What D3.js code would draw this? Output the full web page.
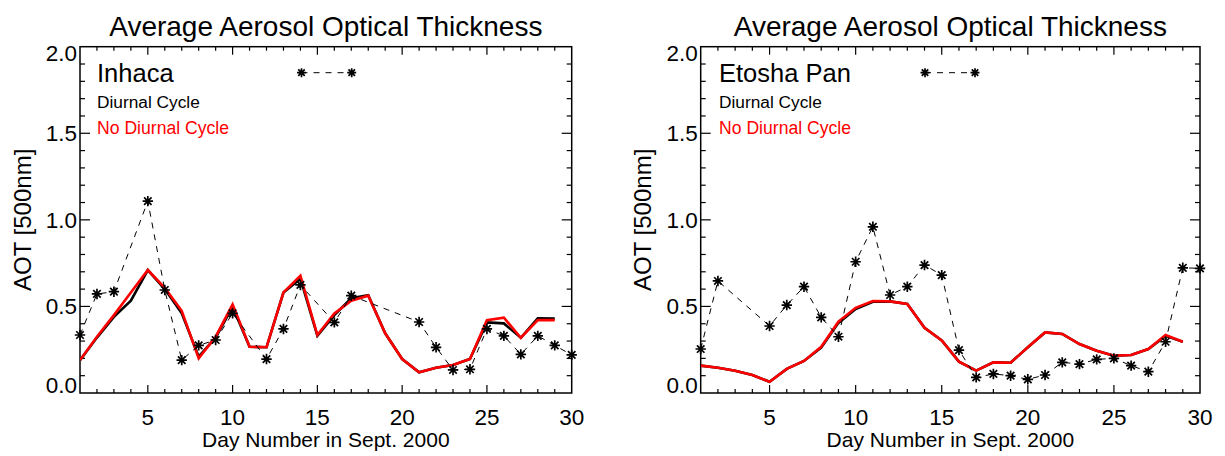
<!DOCTYPE html>
<html><head><meta charset="utf-8">
<script src="https://cdn.jsdelivr.net/npm/d3@7"></script>
<style>html,body{margin:0;padding:0;background:#fff;} svg{display:block;font-family:"Liberation Sans",Arial,sans-serif;}</style>
</head><body>
<svg id="chart" width="1225" height="456"></svg>
<script>
// ---- data ----
const days = d3.range(1, 31);
const lineDays = d3.range(1, 30);
const xTicks = [5, 10, 15, 20, 25, 30];
const yTicks = [0.0, 0.5, 1.0, 1.5, 2.0];
const chartTitle = "Average Aerosol Optical Thickness";
const xTitle = "Day Number in Sept. 2000";
const yTitle = "AOT [500nm]";
const stations = ["Inhaca", "Etosha Pan"];
const legendLabels = ["Diurnal Cycle", "No Diurnal Cycle"];

const inhacaObs = [0.335, 0.572, 0.585, null, 1.108, 0.595, 0.19, 0.275, 0.306, 0.46,
  null, 0.196, 0.37, 0.624, null, 0.408, 0.562, null, null, null,
  0.41, 0.264, 0.133, 0.137, 0.37, 0.33, 0.223, 0.33, 0.275, 0.22];
const inhacaDiurnal = [0.19, 0.32, 0.44, 0.533, 0.71, 0.6, 0.46, 0.21, 0.32, 0.498,
  0.267, 0.264, 0.58, 0.66, 0.33, 0.45, 0.547, 0.565, 0.345, 0.196,
  0.12, 0.146, 0.162, 0.196, 0.408, 0.402, 0.319, 0.431, 0.43];
const inhacaNoDiurnal = [0.19, 0.325, 0.45, 0.58, 0.71, 0.608, 0.475, 0.2, 0.325, 0.512,
  0.267, 0.264, 0.581, 0.677, 0.335, 0.46, 0.533, 0.562, 0.345, 0.196,
  0.12, 0.146, 0.162, 0.196, 0.421, 0.435, 0.319, 0.421, 0.421];

const etoshaObs = [0.254, 0.647, null, null, 0.387, 0.508, 0.614, 0.437, 0.325, 0.758,
  0.96, 0.566, 0.614, 0.739, 0.681, 0.248, 0.09, 0.11, 0.1, 0.079,
  0.104, 0.177, 0.167, 0.194, 0.2, 0.158, 0.123, 0.296, 0.723, 0.72];
const etoshaDiurnal = [0.158, 0.146, 0.129, 0.104, 0.065, 0.139, 0.185, 0.262, 0.405, 0.485,
  0.527, 0.529, 0.514, 0.377, 0.303, 0.181, 0.129, 0.177, 0.175, 0.264,
  0.35, 0.341, 0.283, 0.244, 0.215, 0.219, 0.254, 0.33, 0.296];
const etoshaNoDiurnal = [0.158, 0.146, 0.129, 0.104, 0.065, 0.139, 0.185, 0.267, 0.412, 0.492,
  0.531, 0.529, 0.514, 0.377, 0.303, 0.181, 0.129, 0.177, 0.175, 0.264,
  0.35, 0.341, 0.283, 0.244, 0.215, 0.219, 0.254, 0.335, 0.296];

// ---- layout ----
const panels = [
  {name: stations[0], obs: inhacaObs, diu: inhacaDiurnal, nodiu: inhacaNoDiurnal,
   x0: 80, x1: 571.7, ylabX: 31, legX: 97, symX: [301.5, 351.7]},
  {name: stations[1], obs: etoshaObs, diu: etoshaDiurnal, nodiu: etoshaNoDiurnal,
   x0: 700.7, x1: 1200, ylabX: 651, legX: 719, symX: [925, 975]}
];
const yTop = 46.7, yBot = 393;
const svg = d3.select("#chart");

function asterisk(g, cx, cy, r) {
  const k = r * 0.72;
  const d = `M${cx - r},${cy}H${cx + r}M${cx},${cy - r}V${cy + r}` +
    `M${cx - k},${cy - k}L${cx + k},${cy + k}` +
    `M${cx - k},${cy + k}L${cx + k},${cy - k}`;
  g.append("path").attr("d", d).attr("stroke", "#000").attr("stroke-width", 1.7).attr("fill", "none");
}

panels.forEach(p => {
  const x = d3.scaleLinear().domain([1, 30]).range([p.x0, p.x1]);
  const y = d3.scaleLinear().domain([0, 2]).range([yBot, yTop]);
  const g = svg.append("g");

  // frame
  g.append("rect").attr("x", p.x0).attr("y", yTop).attr("width", p.x1 - p.x0).attr("height", yBot - yTop)
    .attr("fill", "none").attr("stroke", "#000").attr("stroke-width", 1.5);

  // ticks (inward, all four sides)
  const xMinor = d3.range(2, 30);
  const yMinor = d3.range(1, 20).map(v => v / 10);
  const tk = g.append("g").attr("stroke", "#000").attr("stroke-width", 1.2);
  xMinor.forEach(d => {
    const len = (d % 5 === 0) ? 8 : 4;
    tk.append("line").attr("x1", x(d)).attr("x2", x(d)).attr("y1", yBot).attr("y2", yBot - len);
    tk.append("line").attr("x1", x(d)).attr("x2", x(d)).attr("y1", yTop).attr("y2", yTop + len);
  });
  yMinor.forEach(v => {
    const major = Math.abs(v * 2 - Math.round(v * 2)) < 1e-6;
    const len = major ? 10 : 5;
    tk.append("line").attr("x1", p.x0).attr("x2", p.x0 + len).attr("y1", y(v)).attr("y2", y(v));
    tk.append("line").attr("x1", p.x1).attr("x2", p.x1 - len).attr("y1", y(v)).attr("y2", y(v));
  });

  // x tick labels
  g.selectAll(".xl").data(xTicks).enter().append("text")
    .attr("x", d => x(d)).attr("y", 425).attr("text-anchor", "middle")
    .attr("font-size", 22.5).text(d => d);
  // y tick labels
  g.selectAll(".yl").data(yTicks).enter().append("text")
    .attr("x", p.x0 - 3)
    .attr("y", v => v === 0 ? yBot : (v === 2 ? yTop + 14.5 : y(v) + 8))
    .attr("text-anchor", "end").attr("font-size", 22.5).text(v => v.toFixed(1));

  // titles
  g.append("text").attr("x", (p.x0 + p.x1) / 2).attr("y", 36).attr("text-anchor", "middle")
    .attr("font-size", 28).text(chartTitle);
  g.append("text").attr("x", (p.x0 + p.x1) / 2).attr("y", 447).attr("text-anchor", "middle")
    .attr("font-size", 21).text(xTitle);
  g.append("text").attr("transform", `translate(${p.ylabX},${(yTop + yBot) / 2}) rotate(-90)`)
    .attr("text-anchor", "middle").attr("font-size", 24).text(yTitle);

  // legend
  g.append("text").attr("x", p.legX).attr("y", 82).attr("font-size", 25.5).text(p.name);
  g.append("text").attr("x", p.legX).attr("y", 107.5).attr("font-size", 17.3).attr("fill", "#000").text(legendLabels[0]);
  g.append("text").attr("x", p.legX).attr("y", 133.5).attr("font-size", 17.6).attr("fill", "#ff0000").text(legendLabels[1]);
  g.append("line").attr("x1", p.symX[0]).attr("x2", p.symX[1]).attr("y1", 72.7).attr("y2", 72.7)
    .attr("stroke", "#000").attr("stroke-width", 1).attr("stroke-dasharray", "6,6");
  p.symX.forEach(sx => asterisk(g, sx, 72.7, 4.5));

  // data lines
  const clip = "clip" + p.name.replace(/\s/g, "");
  svg.append("clipPath").attr("id", clip).append("rect")
    .attr("x", p.x0).attr("y", yTop).attr("width", p.x1 - p.x0).attr("height", yBot - yTop);
  const dg = g.append("g").attr("clip-path", `url(#${clip})`);
  const line = d3.line().x(d => x(d[0])).y(d => y(d[1]));
  dg.append("path").datum(lineDays.map((d, i) => [d, p.diu[i]]))
    .attr("d", line).attr("fill", "none").attr("stroke", "#000").attr("stroke-width", 2.6);
  dg.append("path").datum(lineDays.map((d, i) => [d, p.nodiu[i]]))
    .attr("d", line).attr("fill", "none").attr("stroke", "#ff0000").attr("stroke-width", 2.6);
  const obsPts = days.map((d, i) => [d, p.obs[i]]).filter(d => d[1] !== null);
  dg.append("path").datum(obsPts).attr("d", line).attr("fill", "none")
    .attr("stroke", "#000").attr("stroke-width", 1).attr("stroke-dasharray", "6,6");
  obsPts.forEach(d => asterisk(g, x(d[0]), y(d[1]), 5.2));
});
</script>
</body></html>
